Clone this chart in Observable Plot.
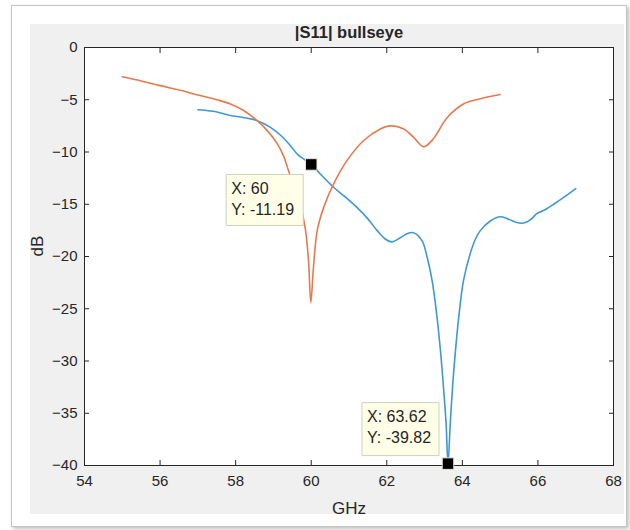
<!DOCTYPE html>
<html>
<head>
<meta charset="utf-8">
<script src="https://cdn.jsdelivr.net/npm/d3@7"></script>
<script src="https://cdn.jsdelivr.net/npm/@observablehq/plot@0.6"></script>
<style>
  body { margin: 0; background: #fff; }
  #wrap { position: relative; width: 630px; height: 530px; overflow: hidden; }
  #frame { position: absolute; left: 11px; top: 5px; width: 614px; height: 520px; border: 1px solid #c4c4c4; background: #fff; box-shadow: 2px 2px 4px rgba(0,0,0,0.25); }
  #panel { position: absolute; left: 30px; top: 24px; width: 594px; height: 490px; background: #f0f0f0; }
  #chart { position: absolute; left: 0; top: 0; }
</style>
</head>
<body>
<div id="wrap">
  <div id="frame"></div>
  <div id="panel"></div>
  <div id="chart"></div>
</div>
<script>
// Series 1 (blue)
const blueX = [57.0, 57.4, 57.86, 58.2, 58.57, 58.9, 59.19, 59.45, 59.63, 59.85, 60.0, 60.24, 60.6, 60.9, 61.21, 61.5, 61.74, 61.95, 62.14, 62.36, 62.55, 62.67, 62.8, 62.95, 63.07, 63.2, 63.32, 63.42, 63.5, 63.57, 63.62, 63.68, 63.75, 63.83, 63.92, 64.03, 64.21, 64.35, 64.48, 64.74, 65.0, 65.2, 65.44, 65.62, 65.8, 65.97, 66.2, 66.42, 66.7, 67.0];
const blueY = [-5.95, -6.1, -6.5, -6.7, -7.0, -7.6, -8.4, -9.4, -10.2, -10.8, -11.19, -12.1, -13.4, -14.3, -15.3, -16.4, -17.5, -18.3, -18.6, -18.2, -17.8, -17.7, -17.9, -18.6, -20.1, -22.3, -25.5, -29.0, -32.5, -36.0, -39.82, -36.0, -32.0, -28.5, -25.3, -22.3, -19.7, -18.3, -17.5, -16.6, -16.2, -16.4, -16.75, -16.8, -16.5, -15.9, -15.5, -15.0, -14.3, -13.5];
// Series 2 (orange)
const orangeX = [55.0, 55.5, 56.0, 56.54, 57.0, 57.5, 57.86, 58.2, 58.57, 58.85, 59.1, 59.27, 59.4, 59.55, 59.71, 59.85, 59.93, 59.99, 60.06, 60.16, 60.33, 60.6, 60.95, 61.39, 61.83, 62.1, 62.45, 62.71, 62.98, 63.24, 63.6, 64.03, 64.48, 65.0];
const orangeY = [-2.8, -3.2, -3.65, -4.1, -4.55, -5.0, -5.4, -6.0, -7.0, -8.0, -9.2, -10.4, -11.8, -13.3, -15.0, -17.5, -20.5, -24.4, -21.0, -17.5, -15.3, -13.0, -10.8, -8.9, -7.8, -7.5, -7.8, -8.6, -9.5, -8.7, -6.7, -5.4, -4.9, -4.5];
// Data tips
const tipX = [60, 63.62];
const tipY = [-11.19, -39.82];
const tipLabels = ["X: 60\nY: -11.19", "X: 63.62\nY: -39.82"];
// Axes
const xTicks = [54, 56, 58, 60, 62, 64, 66, 68];
const yTicks = [0, -5, -10, -15, -20, -25, -30, -35, -40];
const titleText = "|S11| bullseye";
const xLabel = "GHz";
const yLabel = "dB";

const blue = blueX.map((x, i) => ({x, y: blueY[i]}));
const orange = orangeX.map((x, i) => ({x, y: orangeY[i]}));
const tips = tipX.map((x, i) => ({x, y: tipY[i], label: tipLabels[i]}));

// datatip box shapes, drawn relative to the anchored data point (pixels)
const boxBelowLeft = {draw(ctx) { ctx.rect(-85, 10, 77, 51); }};
const boxAboveLeft = {draw(ctx) { ctx.rect(-86, -61, 77, 53); }};
const boxStyle = {x: "x", y: "y", fill: "#ffffe8", stroke: "#cfcfc0", strokeWidth: 1};
const tipText = {x: "x", y: "y", text: "label", textAnchor: "start", lineAnchor: "top", fontSize: 16, lineHeight: 1.3, fill: "#262626"};

const plot = Plot.plot({
  width: 630,
  height: 530,
  marginLeft: 84,
  marginRight: 17,
  marginTop: 47,
  marginBottom: 65,
  style: {background: "transparent", color: "#262626", fontFamily: "'Liberation Sans', Arial, sans-serif", fontSize: "15px"},
  x: {domain: [54, 68]},
  y: {domain: [-40, 0]},
  marks: [
    Plot.frame({fill: "white"}),
    Plot.line(blue, {x: "x", y: "y", stroke: "#3d98d8", strokeWidth: 1.6, curve: "catmull-rom"}),
    Plot.line(orange, {x: "x", y: "y", stroke: "#e8794f", strokeWidth: 1.6, curve: "catmull-rom"}),
    Plot.frame({stroke: "#262626", strokeWidth: 1}),
    Plot.axisX({ticks: xTicks, tickSize: -5, tickPadding: 15, label: null, fontSize: 15}),
    Plot.axisX({anchor: "top", ticks: xTicks, tickSize: -5, tickFormat: () => null, label: null}),
    Plot.axisY({ticks: yTicks, tickSize: -5, tickPadding: 12, label: null, fontSize: 15}),
    Plot.axisY({anchor: "right", ticks: yTicks, tickSize: -5, tickFormat: () => null, label: null}),
    Plot.text([titleText], {text: d => d, frameAnchor: "top", lineAnchor: "middle", dy: -15, fontWeight: "bold", fontSize: 16.5}),
    Plot.text([xLabel], {text: d => d, frameAnchor: "bottom", lineAnchor: "middle", dy: 43, fontSize: 17}),
    Plot.text([yLabel], {text: d => d, frameAnchor: "left", lineAnchor: "middle", dx: -47, rotate: -90, fontSize: 17}),
    Plot.dot([tips[0]], {...boxStyle, symbol: boxBelowLeft}),
    Plot.text([tips[0]], {...tipText, dx: -80, dy: 15}),
    Plot.dot([tips[1]], {...boxStyle, symbol: boxAboveLeft}),
    Plot.text([tips[1]], {...tipText, dx: -81, dy: -56}),
    Plot.dot(tips, {x: "x", y: "y", symbol: "square", r: 6.5, fill: "black", stroke: "#e6e6cc", strokeWidth: 1})
  ]
});
document.getElementById("chart").appendChild(plot);
</script>
</body>
</html>
